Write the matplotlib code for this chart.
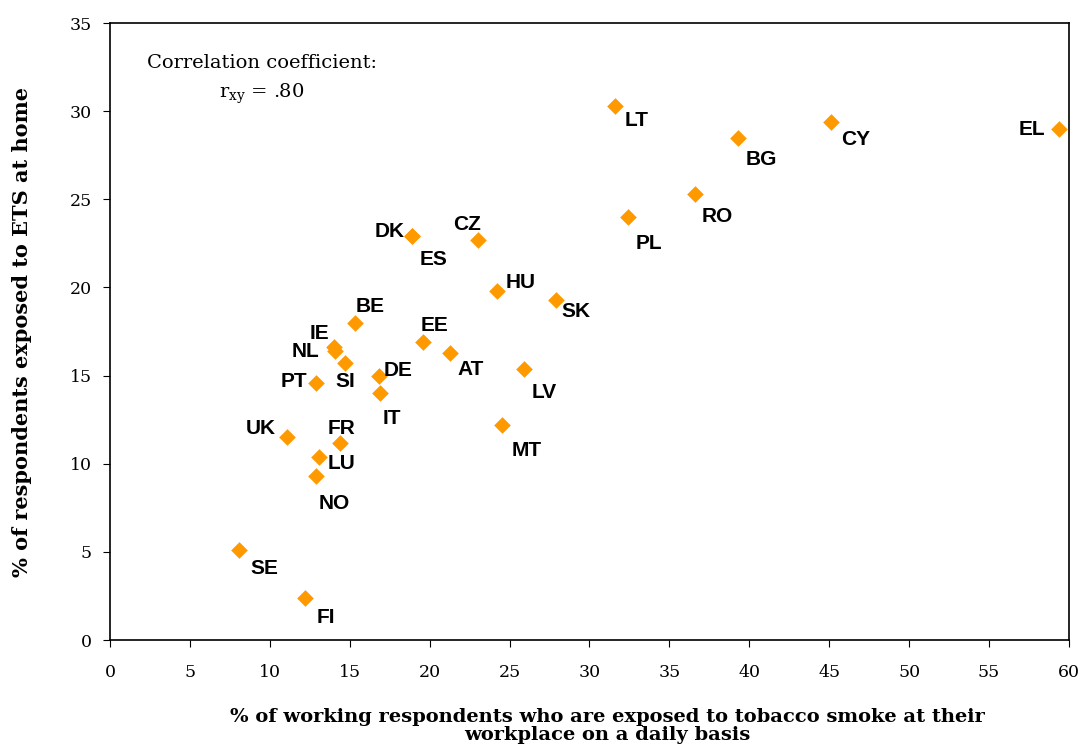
import matplotlib
matplotlib.use("Agg")
import matplotlib.pyplot as plt

countries = ["LT", "BG", "CY", "EL", "RO", "PL", "DK", "ES", "CZ", "HU", "SK",
             "BE", "IE", "NL", "EE", "AT", "SI", "DE", "PT", "IT", "LV", "MT",
             "UK", "FR", "LU", "NO", "SE", "FI"]
workplace = [31.6, 39.3, 45.1, 59.4, 36.6, 32.4, 18.9, 18.9, 23.0, 24.2, 27.9,
             15.3, 14.0, 14.1, 19.6, 21.3, 14.7, 16.8, 12.9, 16.9, 25.9, 24.5,
             11.1, 14.4, 13.1, 12.9, 8.1, 12.2]
home = [30.3, 28.5, 29.4, 29.0, 25.3, 24.0, 22.9, 22.9, 22.7, 19.8, 19.3,
        18.0, 16.6, 16.4, 16.9, 16.3, 15.7, 15.0, 14.6, 14.0, 15.4, 12.2,
        11.5, 11.2, 10.4, 9.3, 5.1, 2.4]

# label offsets in pixels (dx, dy) and horizontal alignment
label_pos = {
    "LT": (10, -15, "left"), "BG": (8, -22, "left"), "CY": (10, -18, "left"),
    "EL": (-14, -1, "right"), "RO": (7, -22, "left"), "PL": (8, -27, "left"),
    "DK": (-7, 5, "right"), "ES": (8, -23, "left"), "CZ": (-11, 15, "center"),
    "HU": (9, 8, "left"), "SK": (6, -12, "left"), "BE": (1, 16, "left"),
    "IE": (-5, 14, "right"), "NL": (-16, -1, "right"), "EE": (-3, 17, "left"),
    "AT": (7, -17, "left"), "SI": (-10, -18, "left"), "DE": (5, 5, "left"),
    "PT": (-9, 1, "right"), "IT": (3, -25, "left"), "LV": (8, -24, "left"),
    "MT": (10, -26, "left"), "UK": (-12, 9, "right"), "FR": (-13, 14, "left"),
    "LU": (8, -7, "left"), "NO": (2, -27, "left"), "SE": (11, -18, "left"),
    "FI": (12, -20, "left"),
}

serif = "DejaVu Serif"
fig = plt.figure(figsize=(10.86, 7.47), dpi=100)
ax = fig.add_axes([0.1013, 0.1432, 0.8830, 0.8260])

ax.scatter(workplace, home, marker="D", s=72, color="#FF9900", linewidths=0, zorder=3)

for c, x, y in zip(countries, workplace, home):
    dx, dy, ha = label_pos[c]
    ax.annotate(c, (x, y), xytext=(dx, dy), textcoords="offset pixels",
                ha=ha, va="center", fontsize=15, fontweight="bold",
                family="Liberation Sans", color="black")

ax.set_xlim(0, 60)
ax.set_ylim(0, 35)
ax.set_xticks(range(0, 61, 5))
ax.set_yticks(range(0, 36, 5))
for lab in ax.get_xticklabels() + ax.get_yticklabels():
    lab.set_family(serif)
    lab.set_fontsize(12.5)
ax.tick_params(axis="x", direction="out", length=5, pad=12, width=0.8)
ax.tick_params(axis="y", direction="out", length=5, pad=8, width=0.8)
for sp in ax.spines.values():
    sp.set_linewidth(1.2)
    sp.set_color("black")

fig.text(0.559, 1 - 726 / 747,
         "% of working respondents who are exposed to tobacco smoke at their\nworkplace on a daily basis",
         family=serif, fontweight="bold", fontsize=14, ha="center", va="center", linespacing=1.05)
fig.text(22 / 1086, 1 - 332 / 747, "% of respondents exposed to ETS at home",
         family=serif, fontweight="bold", fontsize=15, ha="center", va="center", rotation=90)

ax.text(0.039, 0.935, "Correlation coefficient:", transform=ax.transAxes,
        family=serif, fontsize=14, ha="left", va="center")
ax.text(0.114, 0.885, r"r$_{\mathregular{xy}}$ = .80", transform=ax.transAxes,
        family=serif, fontsize=14, ha="left", va="center")

fig.savefig("out.png", dpi=100, facecolor="white")
